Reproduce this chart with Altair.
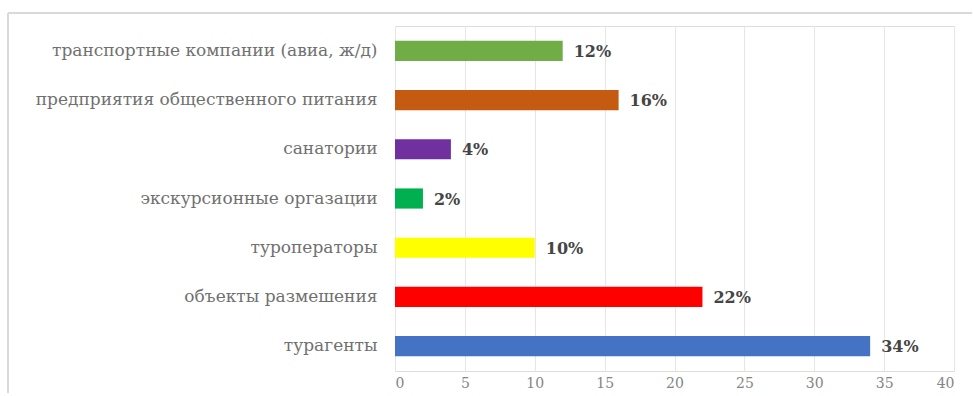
import altair as alt
import pandas as pd

categories = [
    "транспортные компании (авиа, ж/д)",
    "предприятия общественного питания",
    "санатории",
    "экскурсионные оргазации",
    "туроператоры",
    "объекты размешения",
    "турагенты",
]
values = [12, 16, 4, 2, 10, 22, 34]
labels = ["12%", "16%", "4%", "2%", "10%", "22%", "34%"]
colors = ["#70AD47", "#C55A11", "#7030A0", "#00B050", "#FFFF00", "#FF0000", "#4472C4"]
x_ticks = [0, 5, 10, 15, 20, 25, 30, 35, 40]

df = pd.DataFrame({"cat": categories, "val": values, "lab": labels, "col": colors})

FONT = "DejaVu Serif"

y_enc = alt.Y(
    "cat:N",
    sort=categories,
    title=None,
    scale=alt.Scale(paddingInner=0.59, paddingOuter=0.3),
    axis=alt.Axis(
        labelFont=FONT,
        labelFontSize=17,
        labelColor="#707070",
        labelPadding=18,
        ticks=False,
        domain=False,
        labelLimit=400,
    ),
)
x_enc = alt.X(
    "val:Q",
    title=None,
    scale=alt.Scale(domain=[0, 40], nice=False),
    axis=alt.Axis(
        values=x_ticks,
        labelFont=FONT,
        labelFontSize=14,
        labelColor="#858585",
        labelPadding=5,
        ticks=False,
        domain=False,
        grid=True,
        gridColor="#E6E6E6",
        gridWidth=1,
    ),
)

bars = alt.Chart(df).mark_bar().encode(
    y=y_enc,
    x=x_enc,
    color=alt.Color("col:N", scale=None, legend=None),
)

text = alt.Chart(df).mark_text(
    align="left", dx=11, dy=1, font=FONT, fontSize=16, fontWeight="bold", color="#454545"
).encode(
    y=alt.Y("cat:N", sort=categories),
    x=alt.X("val:Q"),
    text="lab:N",
)

frame_left = alt.Chart(df).mark_rule(color="#D9D9D9", strokeWidth=1.5).encode(
    x=alt.value(-387), y=alt.value(-13), y2=alt.value(380)
)
frame_top = alt.Chart(df).mark_rule(color="#D9D9D9", strokeWidth=1.5).encode(
    x=alt.value(-387), x2=alt.value(580), y=alt.value(-13)
)

chart = (
    alt.layer(bars, text, frame_left, frame_top)
    .properties(
        width=559,
        height=345,
        autosize=alt.AutoSizeParams(type="none"),
        padding={"left": 395, "top": 26, "right": 18, "bottom": 22},
    )
    .configure_view(stroke=None)
    .configure(background="white")
)

chart.save("out.html", embed_options={"renderer": "svg", "actions": False})
